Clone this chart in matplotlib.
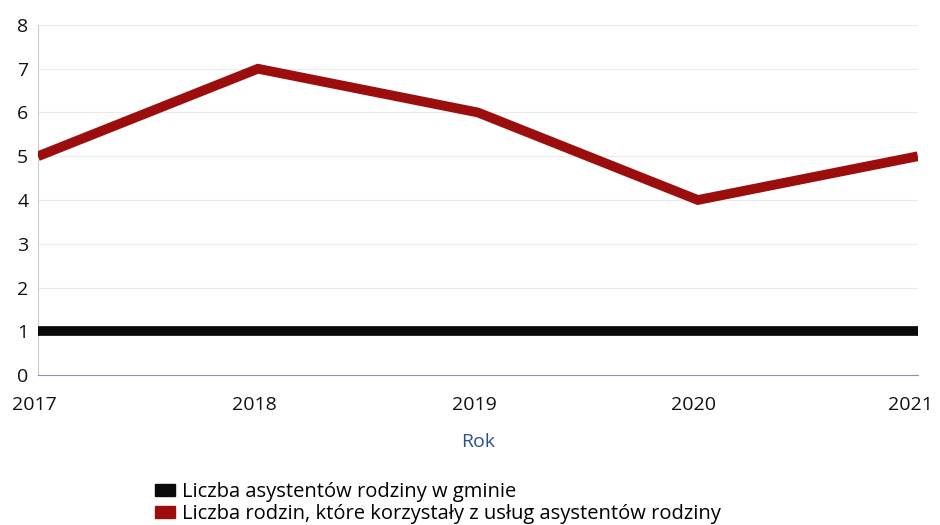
import matplotlib
matplotlib.use("Agg")
import matplotlib.pyplot as plt
import matplotlib.transforms as mtransforms
from matplotlib.patches import Patch

plt.rcParams['font.family'] = ['Open Sans', 'DejaVu Sans']

years = ["2017", "2018", "2019", "2020", "2021"]
asystenci = [1, 1, 1, 1, 1]
rodziny = [5, 7, 6, 4, 5]
yticks = [0, 1, 2, 3, 4, 5, 6, 7, 8]
labels = ["Liczba asystentów rodziny w gminie",
          "Liczba rodzin, które korzystały z usług asystentów rodziny"]
c_black = "#0a0a0a"
c_red = "#9c0d0d"

fig = plt.figure(figsize=(9.4, 5.25), dpi=100)
ax = fig.add_axes([0.0404, 0.2857, 0.936, 0.6667])
x = list(range(len(years)))
ax.plot(x, asystenci, color=c_black, lw=7, solid_capstyle='butt', zorder=3)
ax.plot(x, rodziny, color=c_red, lw=7, solid_capstyle='butt', solid_joinstyle='miter', zorder=3)

ax.set_xlim(0, len(years) - 1)
ax.set_ylim(0, 8)
ax.set_yticks(yticks)
ax.set_xticks(x)
ax.set_xticklabels(years)
ax.tick_params(axis='both', length=0, labelsize=14, colors='#111111')
ax.tick_params(axis='y', pad=7)
ax.tick_params(axis='x', pad=15)
ax.grid(axis='y', color='#ebebeb', lw=0.8)
ax.set_axisbelow(True)
for s in ['top', 'right']:
    ax.spines[s].set_visible(False)
ax.spines['left'].set_color('#c8ccd8')
ax.spines['left'].set_linewidth(0.8)
ax.spines['bottom'].set_color('#8a90b0')
ax.spines['bottom'].set_linewidth(0.8)

# slight leftward shift of x tick labels as in the reference
xt = ax.get_xticklabels()
for i, lbl in enumerate(xt):
    dx = -7 if i == len(xt) - 1 else -4
    lbl.set_transform(lbl.get_transform() +
                      mtransforms.ScaledTranslation(dx / 100, 0, fig.dpi_scale_trans))

ax.set_xlabel("Rok", fontsize=14, color='#2e4f8f', labelpad=14)

handles = [Patch(color=c_black), Patch(color=c_red)]
fig.legend(handles, labels, loc='upper left', bbox_to_anchor=(0.165, 0.082),
           frameon=False, fontsize=14.5, handlelength=1.0, handleheight=0.5,
           handletextpad=0.35, labelspacing=0.1, borderaxespad=0, borderpad=0)

fig.savefig("out.png", dpi=100)
